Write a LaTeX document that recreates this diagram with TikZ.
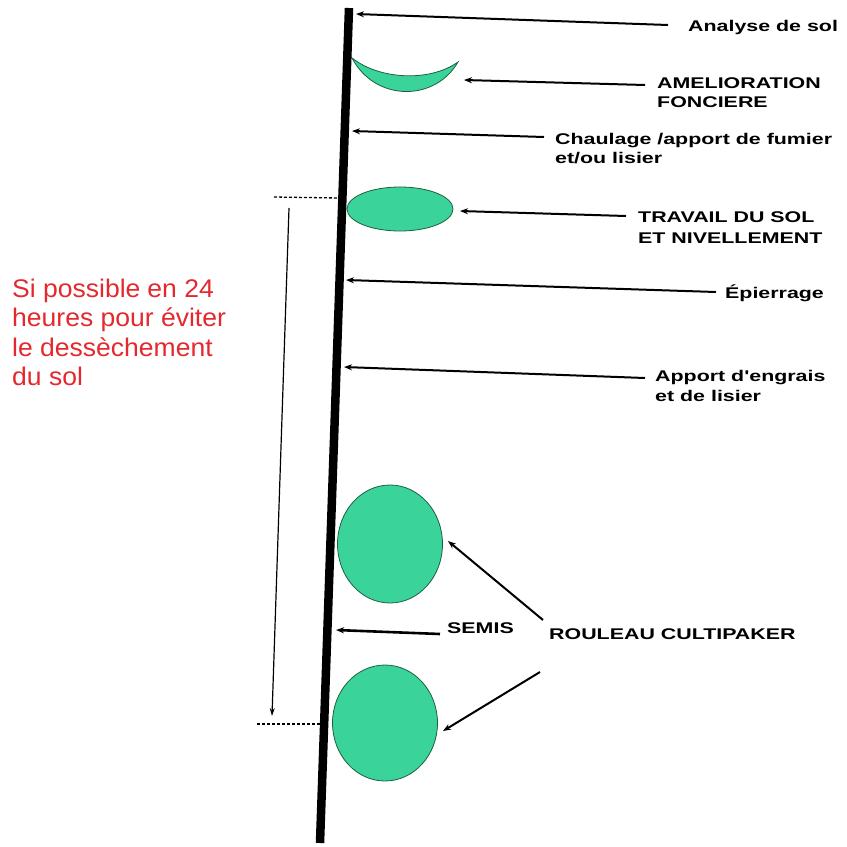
\documentclass[tikz,border=0pt]{standalone}
\usepackage{fontspec}
\setmainfont{Liberation Sans}
\newfontfamily\labfont[FakeStretch=1.38]{Liberation Sans}
\newfontfamily\redfont[FakeStretch=1.04]{Liberation Sans}
\usetikzlibrary{arrows.meta,shapes.geometric}
\definecolor{leaf}{RGB}{58,212,155}
\definecolor{leafedge}{RGB}{30,95,65}
\definecolor{warn}{RGB}{228,40,45}
\begin{document}
\begin{tikzpicture}[x=1pt,y=-1pt,
  lab/.style={font=\labfont\bfseries\fontsize{15.5}{19}\selectfont, anchor=base west, inner sep=0pt},
  redlab/.style={font=\redfont\fontsize{25.5}{29.5}\selectfont, text=warn, anchor=base west, inner sep=0pt},
  pointer/.style={line width=2pt, -{Stealth[length=8pt,width=6pt]}},
  thinpointer/.style={line width=1.2pt, -{Stealth[length=8pt,width=5pt]}},
  leafshape/.style={fill=leaf, draw=leafedge, line width=0.8pt},
  roller/.style={ellipse, leafshape, inner sep=0pt, minimum width=105pt, minimum height=118pt},
  guide/.style={line width=1.3pt, dash pattern=on 3pt off 2pt}]
\useasboundingbox (0,0) rectangle (847,847);

% shapes on the time line
\path[leafshape] (352,58) .. controls (375,102) and (435,102) .. (458,62)
  .. controls (430,82) and (380,80) .. (352,58) -- cycle;
\node[ellipse, leafshape, inner sep=0pt, minimum width=106pt, minimum height=44pt] (travail) at (400,209) {};
\node[roller] (roll1) at (390,544) {};
\node[roller, minimum height=116pt] (roll2) at (385,723) {};

% main time line
\coordinate (top) at (349,8);
\coordinate (bottom) at (320,843);
\draw[line width=8.5pt] (top) -- (bottom);

% labels
\node[lab] (analyse) at (688,31) {Analyse de sol};
\node[lab] (amel1) at (657,88) {AMELIORATION};
\node[lab] (amel2) at (657,107) {FONCIERE};
\node[lab] (chaul1) at (555,144) {Chaulage /apport de fumier};
\node[lab] (chaul2) at (555,163) {et/ou lisier};
\node[lab] (trav1) at (638,222) {TRAVAIL DU SOL};
\node[lab] (trav2) at (638,243) {ET NIVELLEMENT};
\node[lab] (epi) at (725,298) {Épierrage};
\node[lab] (engr1) at (655,381) {Apport d'engrais};
\node[lab] (engr2) at (655,401) {et de lisier};
\node[lab] (semis) at (447,633) {SEMIS};
\node[lab] (rouleau) at (549,639) {ROULEAU CULTIPAKER};

\node[redlab] (red1) at (12,297) {Si possible\hspace{7pt}en 24};
\node[redlab] (red2) at (12,326.5) {heures pour éviter};
\node[redlab] (red3) at (12,356) {le dessèchement};
\node[redlab] (red4) at (12,385.5) {du sol};

% arrow end points
\coordinate (a1t) at (668,25);  \coordinate (a1h) at (356,14);
\coordinate (a2t) at (645,85);  \coordinate (a2h) at (464,80);
\coordinate (a3t) at (544,137); \coordinate (a3h) at (352,131);
\coordinate (a4t) at (626,216); \coordinate (a4h) at (460,211);
\coordinate (a5t) at (716,292); \coordinate (a5h) at (346,280);
\coordinate (a6t) at (645,378); \coordinate (a6h) at (344,367);
\coordinate (a7t) at (543,620); \coordinate (a7h) at (448,541);
\coordinate (a8t) at (440,634); \coordinate (a8h) at (336,630);
\coordinate (a9t) at (540,672); \coordinate (a9h) at (443,731);

\draw[pointer] (a1t) -- (a1h);
\draw[pointer] (a2t) -- (a2h);
\draw[pointer] (a3t) -- (a3h);
\draw[pointer] (a4t) -- (a4h);
\draw[pointer] (a5t) -- (a5h);
\draw[pointer] (a6t) -- (a6h);
\draw[pointer] (a7t) -- (a7h);
\draw[pointer, line width=2.6pt] (a8t) -- (a8h);
\draw[pointer] (a9t) -- (a9h);

% 24 h span
\coordinate (d1a) at (274,197); \coordinate (d1b) at (339,198);
\coordinate (d2a) at (257,724); \coordinate (d2b) at (325,724);
\draw[guide] (d1a) -- (d1b);
\draw[guide] (d2a) -- (d2b);
\coordinate (spanTop) at (289,208);
\coordinate (spanBot) at (272,716);
\draw[thinpointer] (spanTop) -- (spanBot);
\end{tikzpicture}
\end{document}
